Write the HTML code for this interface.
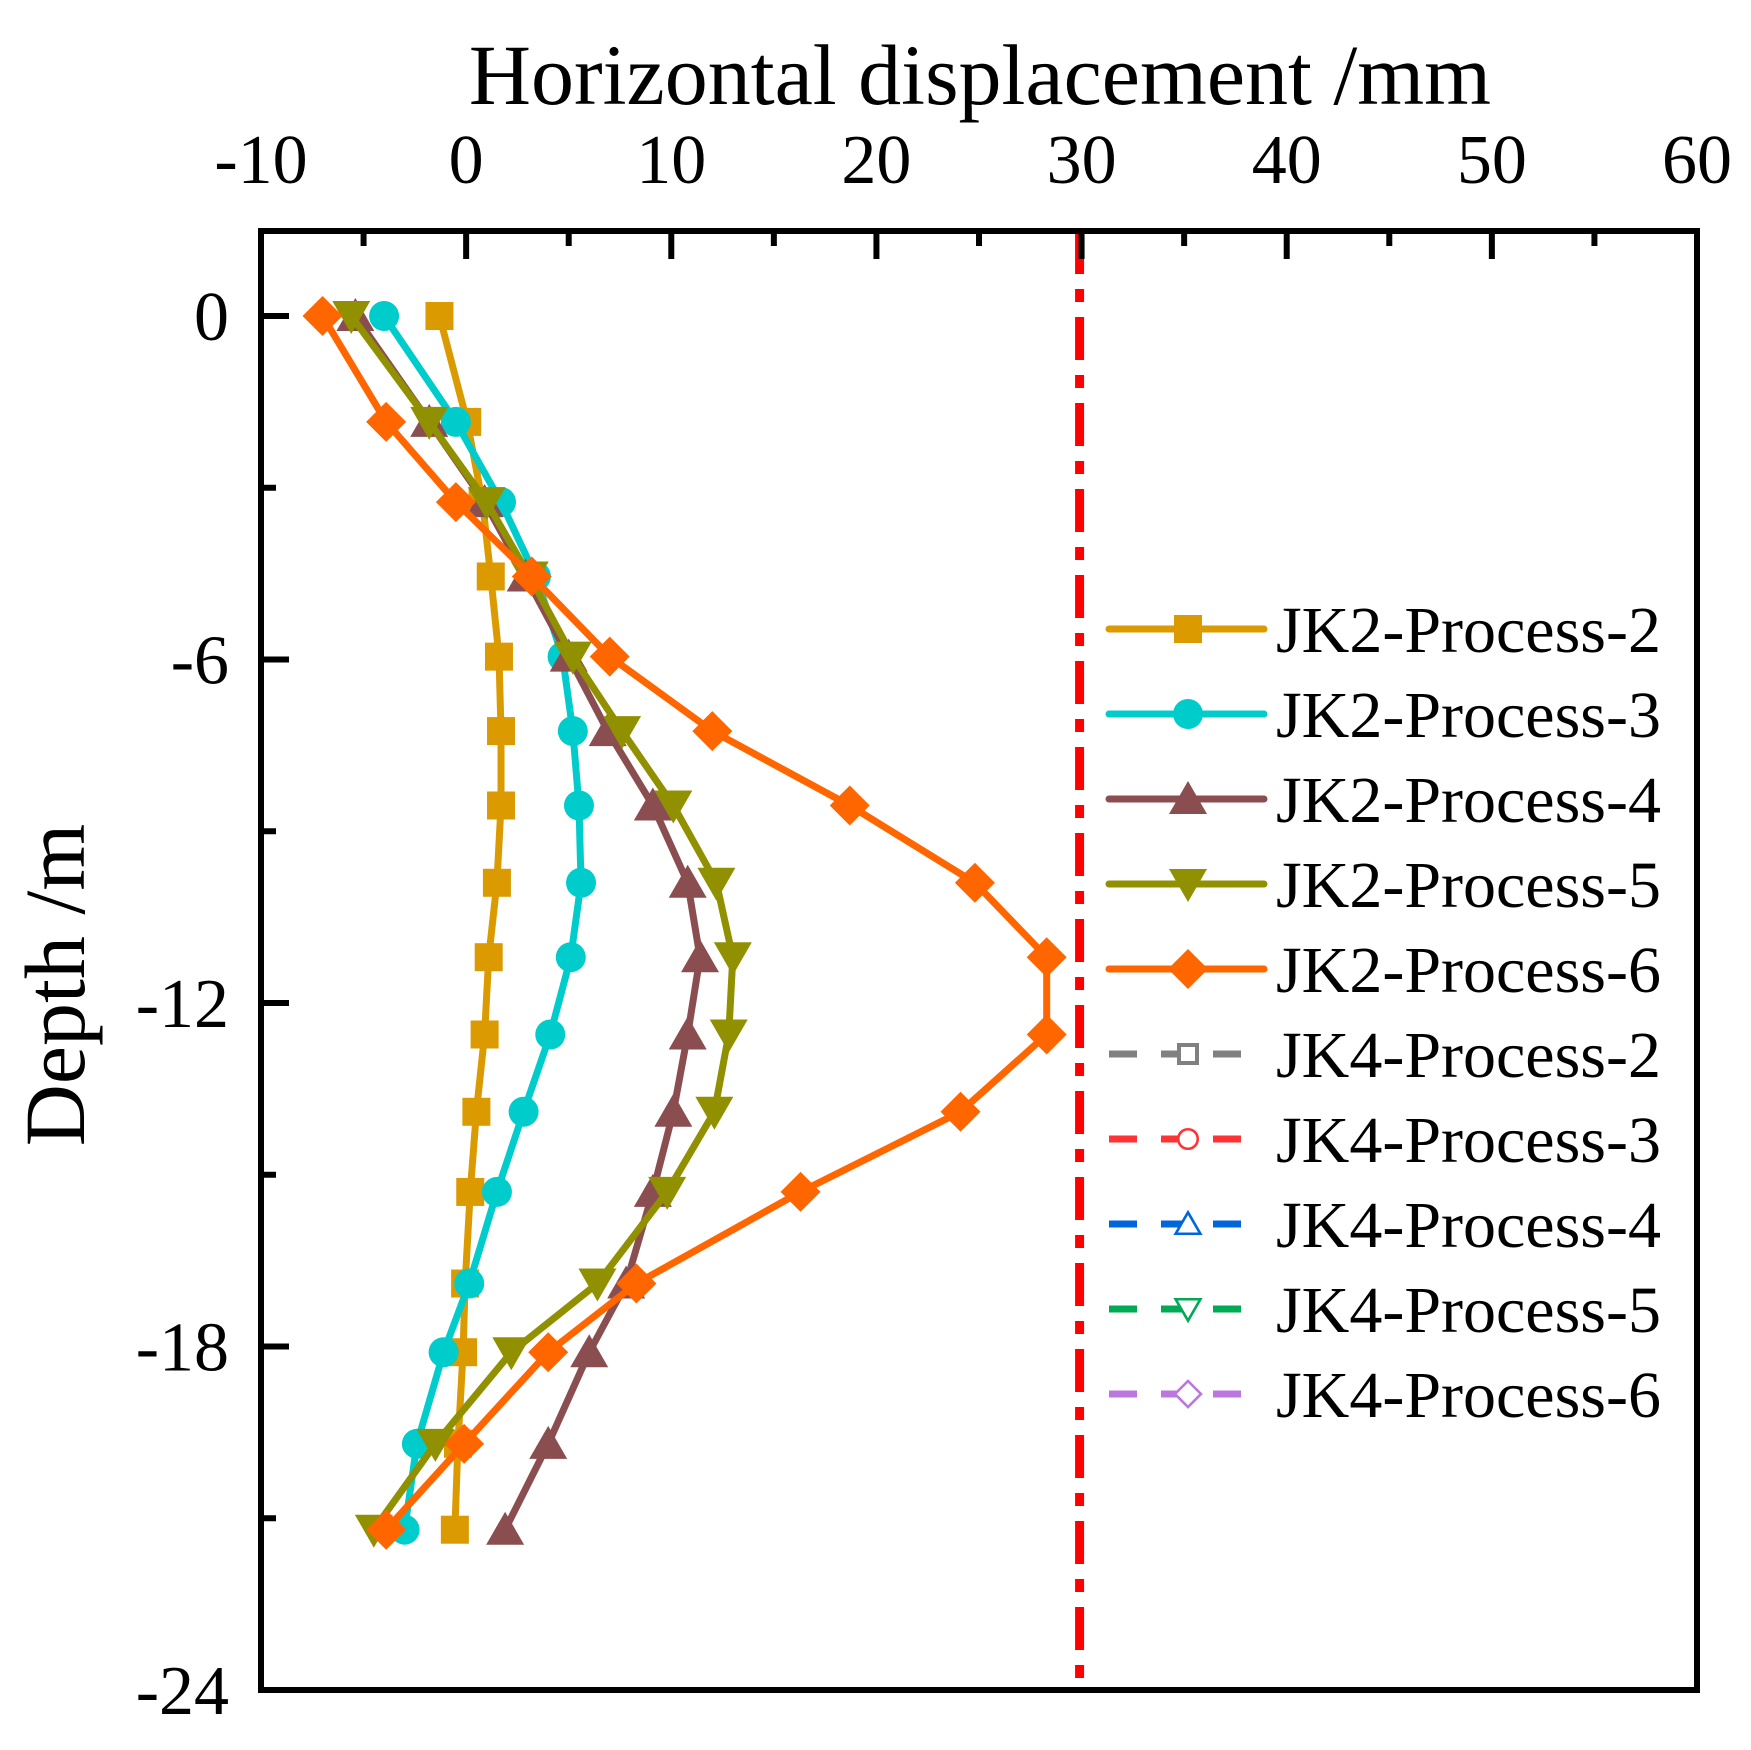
<!DOCTYPE html>
<html><head><meta charset="utf-8"><style>
body{margin:0;background:#fff}
svg text{font-family:"Liberation Serif",serif;fill:#000}
</style></head><body>
<svg id="chart" width="1751" height="1745" viewBox="0 0 1751 1745" xmlns="http://www.w3.org/2000/svg">
<rect width="1751" height="1745" fill="#fff"/>
<g id="plot"></g>
<g id="axes"></g>
<g id="legend"></g>
</svg>
<script>
const xTicks=[-10,0,10,20,30,40,50,60];
const yTicks=[0,-6,-12,-18,-24];
const depths=[0,-1.85,-3.25,-4.55,-5.95,-7.25,-8.55,-9.9,-11.2,-12.55,-13.9,-15.3,-16.9,-18.1,-19.7,-21.2];
const p2=[-1.3,0.05,0.8,1.2,1.6,1.7,1.7,1.5,1.1,0.9,0.5,0.2,-0.05,-0.15,-0.4,-0.55];
const p3=[-4.0,-0.5,1.7,3.4,4.7,5.2,5.5,5.6,5.1,4.1,2.8,1.5,0.15,-1.1,-2.4,-3.0];
const p4=[-5.4,-1.8,0.9,2.9,5.0,6.9,9.1,10.8,11.4,10.8,10.1,9.1,7.8,6.0,4.0,1.9];
const p5=[-5.6,-1.8,1.0,3.1,5.2,7.6,10.1,12.2,13.0,12.8,12.1,9.8,6.4,2.2,-1.5,-4.5];
const p6=[-7.0,-3.9,-0.5,3.2,7.0,12.0,18.7,24.8,28.3,28.3,24.1,16.3,8.3,4.0,-0.1,-3.9];
const limitValue=30;
const names=["JK2-Process-2","JK2-Process-3","JK2-Process-4","JK2-Process-5","JK2-Process-6","JK4-Process-2","JK4-Process-3","JK4-Process-4","JK4-Process-5","JK4-Process-6"];

const NS="http://www.w3.org/2000/svg";
const L=261,R=1697,T=231,B=1690;
const X=v=>L+(v+10)/70*(R-L);
const Y=d=>316+(-d)/24*(B-316);
function mk(tag,attrs,parent){const e=document.createElementNS(NS,tag);for(const k in attrs)e.setAttribute(k,attrs[k]);parent.appendChild(e);return e;}
const plot=document.getElementById('plot'),axes=document.getElementById('axes'),leg=document.getElementById('legend');

const series=[
 {v:p2,c:"#DB9A00",m:"square",id:"p2"},
 {v:p3,c:"#00CCCC",m:"circle",id:"p3"},
 {v:p4,c:"#8B4E50",m:"up",id:"p4"},
 {v:p5,c:"#909000",m:"down",id:"p5"},
 {v:p6,c:"#FF6600",m:"diamond",id:"p6"}];
const hollow=[{c:"#808080",m:"square"},{c:"#FF3333",m:"circle"},{c:"#0066DD",m:"up"},{c:"#00AA55",m:"down"},{c:"#BB77DD",m:"diamond"}];

function marker(type,x,y,color,fill,parent,name){
 let e;const s=14;
 if(type==="square")e=mk('rect',{x:x-s,y:y-s,width:2*s,height:2*s},parent);
 else if(type==="circle")e=mk('circle',{cx:x,cy:y,r:s+1},parent);
 else if(type==="up")e=mk('polygon',{points:`${x},${y-18} ${x+19},${y+15} ${x-19},${y+15}`},parent);
 else if(type==="down")e=mk('polygon',{points:`${x},${y+18} ${x+19},${y-15} ${x-19},${y-15}`},parent);
 else e=mk('polygon',{points:`${x},${y-20} ${x+20},${y} ${x},${y+20} ${x-20},${y}`},parent);
 if(fill){e.setAttribute('fill',color);}else{e.setAttribute('fill','#fff');e.setAttribute('stroke',color);e.setAttribute('stroke-width','4');if(type==="square"){e.setAttribute('x',x-9);e.setAttribute('y',y-9);e.setAttribute('width',18);e.setAttribute('height',18);}}
 if(!fill){e.setAttribute('transform',`translate(${x},${y}) scale(${type==="square"?1:0.65}) translate(${-x},${-y})`);}
 
 
 return e;
}

const lim=mk('line',{x1:X(limitValue)-2,x2:X(limitValue)-2,y1:T,y2:B,stroke:"#FF0000","stroke-width":9,"stroke-dasharray":"43 15 13 15"},plot);



series.forEach(s=>{
 const g=mk('g',{},plot);
 
 
 const pts=s.v.map((v,i)=>X(v)+','+Y(depths[i])).join(' ');
 const pl=mk('polyline',{points:pts,fill:"none",stroke:s.c,"stroke-width":7,"stroke-linejoin":"round"},g);
 
 
 s.v.forEach((v,i)=>marker(s.m,X(v),Y(depths[i]),s.c,true,g,'point-'+s.id));
});

const fr=mk('rect',{x:L,y:T,width:R-L,height:B-T,fill:"none",stroke:"#000","stroke-width":6},axes);


xTicks.forEach((t,i)=>{
 const tk=mk('line',{x1:X(t),x2:X(t),y1:T,y2:T+28,stroke:"#000","stroke-width":6},axes);
 
 
 if(i<xTicks.length-1){const m=mk('line',{x1:X(t+5),x2:X(t+5),y1:T,y2:T+15,stroke:"#000","stroke-width":6},axes);
 
 }
 const tx=mk('text',{x:X(t),y:183,"font-size":70,"text-anchor":"middle"},axes);tx.textContent=t;
 
 
});
yTicks.forEach((t,i)=>{
 const tk=mk('line',{x1:L,x2:L+28,y1:Y(t),y2:Y(t),stroke:"#000","stroke-width":6},axes);
 
 
 if(i<yTicks.length-1){const m=mk('line',{x1:L,x2:L+15,y1:Y(t-3),y2:Y(t-3),stroke:"#000","stroke-width":6},axes);
 
 }
 const tx=mk('text',{x:229,y:Y(t)+24,"font-size":70,"text-anchor":"end"},axes);tx.textContent=t;
 
 
});
const xt=mk('text',{x:(L+R)/2+1,y:104,"font-size":86,"text-anchor":"middle"},axes);xt.textContent="Horizontal displacement /mm";


const yt=mk('text',{x:0,y:0,"font-size":86,"text-anchor":"middle","transform":"translate(84,985) rotate(-90)"},axes);yt.textContent="Depth  /m";



names.forEach((n,i)=>{
 const y=629+i*85;
 const g=mk('g',{},leg);
 
 
 if(i<5){const s=series[i];
  mk('line',{x1:1109,x2:1264,y1:y,y2:y,stroke:s.c,"stroke-width":7,"stroke-linecap":"round"},g);
  marker(s.m,1188,y,s.c,true,g,'legend-marker');
 }else{const h=hollow[i-5];
  mk('line',{x1:1109,x2:1264,y1:y,y2:y,stroke:h.c,"stroke-width":7,"stroke-dasharray":"28 24"},g);
  marker(h.m,1188,y,h.c,false,g,'legend-marker');
 }
 const t=mk('text',{x:1276,y:y+23,"font-size":66},g);t.textContent=n;
 
 
});
</script>
</body></html>
